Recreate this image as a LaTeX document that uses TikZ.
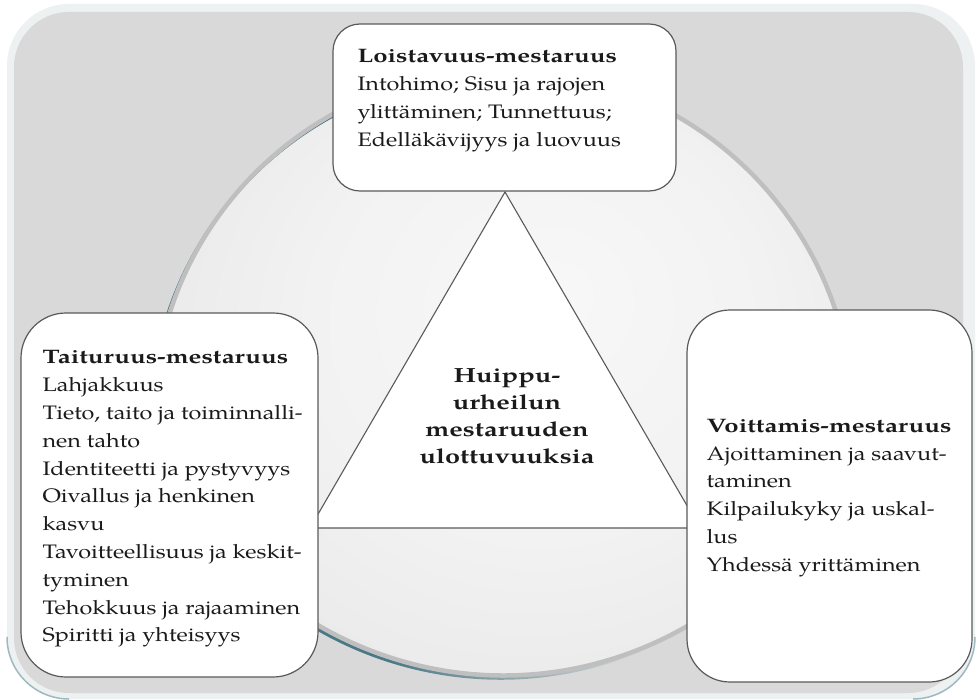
\documentclass[tikz,border=0pt]{standalone}
\usepackage{fontspec}
\setmainfont{TeX Gyre Pagella}[FakeStretch=1.2, BoldFeatures={FakeStretch=1.32}]
\usetikzlibrary{fadings}

\definecolor{rim}{HTML}{EEF1F1}
\definecolor{panel}{HTML}{D9D9D9}
\definecolor{ringgray}{HTML}{BFBFBF}
\definecolor{ringteal}{HTML}{4A7886}
\definecolor{edge}{HTML}{5A5A5A}
\definecolor{rimshadow}{HTML}{9DB9C2}
\definecolor{ink}{HTML}{1A1A1A}

% teal rim of the disk fades out towards the right
\pgfdeclarehorizontalshading{tealfadeshade}{100bp}{color(0bp)=(white); color(42bp)=(white); color(60bp)=(black); color(100bp)=(black)}
\pgfdeclarefading{tealfade}{\pgfuseshading{tealfadeshade}}
% soft light centre of the disk
\pgfdeclareradialshading{diskshade}{\pgfpoint{4bp}{8bp}}{color(0bp)=(white!97!black); color(16bp)=(white!95!black); color(38bp)=(white!89!black); color(50bp)=(white!86!black)}

\tikzset{
  box/.style={draw=edge, line width=1.2pt, fill=white},
  txt/.style={inner sep=0pt, align=left, text=ink, font=\fontsize{19.5}{27.8}\selectfont},
  tritxt/.style={inner sep=0pt, align=center, text=ink, font=\fontsize{20.5}{27.2}\selectfont\bfseries},
}

% outline of the disk: round top, flatter bottom
\def\diskpath{(153,-420) arc[start angle=180, end angle=0, radius=350] arc[start angle=-17.7, end angle=-162.3, radius=367] -- cycle}

\begin{document}
\begin{tikzpicture}[x=1pt,y=1pt]
\useasboundingbox (0,0) rectangle (976,-700);
\fill[white] (0,0) rectangle (976,-700);

% panel with light rim
\fill[rim, rounded corners=62pt] (7,-4) rectangle (975,-699);
\fill[panel, rounded corners=55pt] (14,-12) rectangle (963,-693);
\draw[rimshadow, line width=1.5pt] (7,-637) arc[start angle=180, end angle=270, radius=62];
\draw[rimshadow, line width=1.5pt] (913,-699) arc[start angle=270, end angle=360, radius=62];

% disk
\shade[shading=diskshade] \diskpath;
\draw[ringteal, line width=3pt, path fading=tealfade, fit fading=true, shift={(-2.6,-2.4)}] \diskpath;
\draw[ringgray, line width=4.5pt] \diskpath;

% central triangle
\draw[edge, line width=1.1pt, fill=white] (505,-192) coordinate (apex) -- (310,-528) coordinate (bl) -- (700,-528) coordinate (br) -- cycle;
\node[tritxt] (core) at (507,-416) {Huippu-\\urheilun\\mestaruuden\\ulottuvuuksia};

% three boxes
\node[box, rounded corners=27pt, minimum width=343pt, minimum height=167pt] (loisto) at (504.5,-107.5) {};
\node[txt, anchor=west] (loistotxt) at ([xshift=25pt, yshift=7pt]loisto.west)
  {\textbf{Loistavuus-mestaruus}\\Intohimo; Sisu ja rajojen\\ylittäminen; Tunnettuus;\\Edelläkävijyys ja luovuus};

\node[box, rounded corners=45pt, minimum width=297pt, minimum height=364pt] (taito) at (169.5,-495) {};
\node[txt, anchor=west] (taitotxt) at ([xshift=22pt, yshift=-4pt]taito.west)
  {\textbf{Taituruus-mestaruus}\\Lahjakkuus\\Tieto, taito ja toiminnalli-\\nen tahto\\Identiteetti ja pystyvyys\\Oivallus ja henkinen\\kasvu\\Tavoitteellisuus ja keskit-\\tyminen\\Tehokkuus ja rajaaminen\\Spiritti ja yhteisyys};

\node[box, rounded corners=43pt, minimum width=285pt, minimum height=372pt] (voitto) at (829.5,-496) {};
\node[txt, anchor=west] (voittotxt) at ([xshift=20pt, yshift=-2pt]voitto.west)
  {\textbf{Voittamis-mestaruus}\\Ajoittaminen ja saavut-\\taminen\\Kilpailukyky ja uskal-\\lus\\Yhdessä yrittäminen};
\end{tikzpicture}
\end{document}
